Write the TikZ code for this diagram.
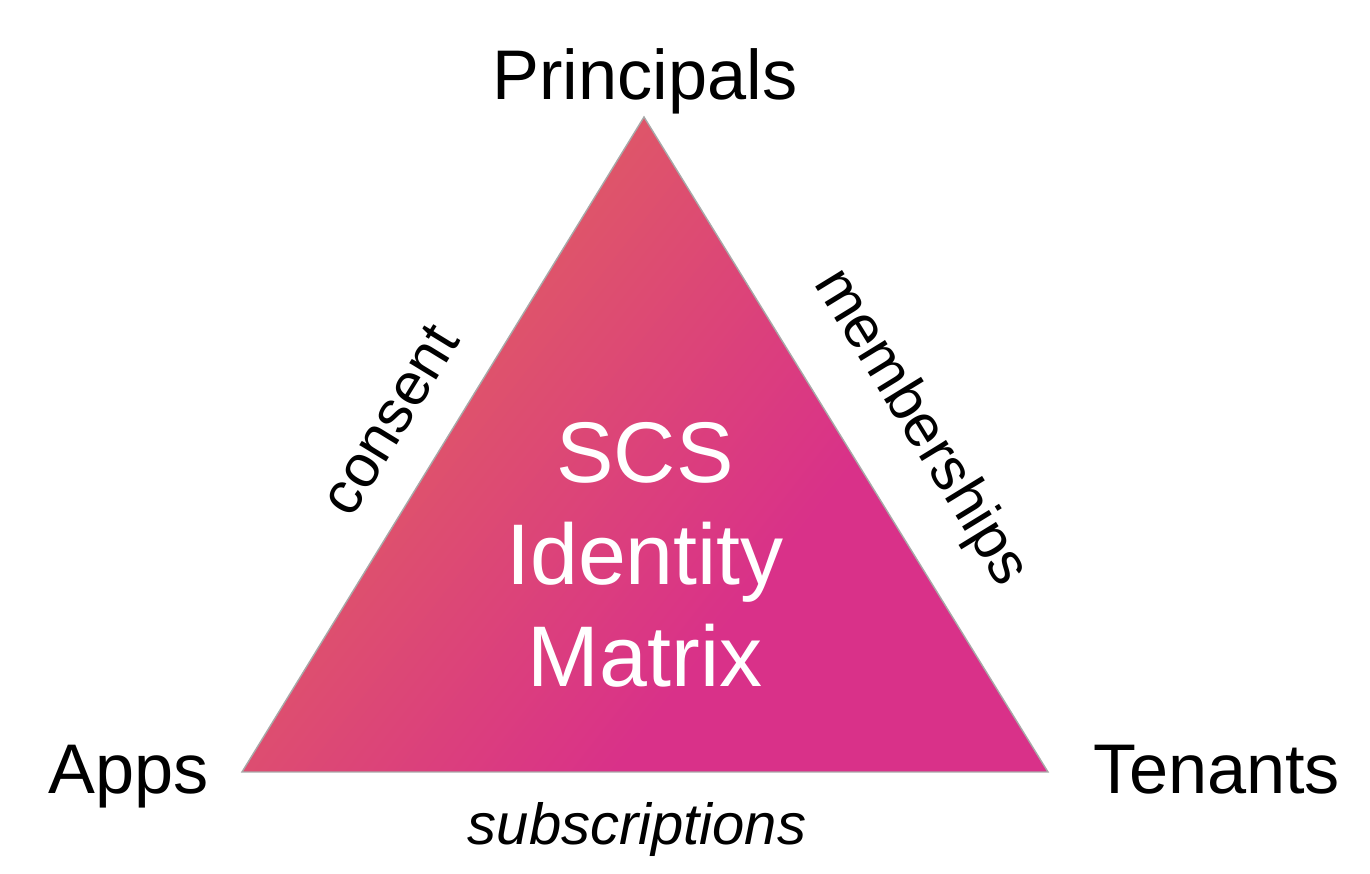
\documentclass[tikz,border=0pt]{standalone}
\usepackage{fontspec}
\setmainfont{Liberation Sans}
\usetikzlibrary{positioning}
\definecolor{idorange}{HTML}{E1675A}
\definecolor{idmagenta}{HTML}{D93189}
\definecolor{idedge}{HTML}{A8A8A8}
\pgfdeclarehorizontalshading{idshade}{100bp}{color(0bp)=(idorange); color(24bp)=(idorange); color(62bp)=(idmagenta); color(100bp)=(idmagenta)}

\begin{document}
\begin{tikzpicture}[x=0.02cm,y=-0.02cm]
      \tikzstyle{corner} = [inner sep=0pt, anchor=base, font=\fontsize{40}{48}\selectfont]
      \tikzstyle{side} = [inner sep=0pt, font=\fontsize{34}{40}\selectfont]

      \useasboundingbox (0,0) rectangle (1370,874);

      \coordinate (top) at (644,117);
      \coordinate (left) at (242,772);
      \coordinate (right) at (1048,772);

      \draw[idedge, line width=0.8pt, shading=idshade, shading angle=-38] (top) -- (left) -- (right) -- cycle;

      \node[corner] (principals) at (645,100) {Principals};
      \node[corner] (apps) at (129,793) {Apps};
      \node[corner] (tenants) at (1217,793) {Tenants};

      \node[side, anchor=base, font=\fontsize{33}{40}\selectfont\itshape] (subs) at (637,845) {subscriptions};
      \node[side, rotate=58.5] (consent) at (390,420) {consent};
      \node[side, rotate=-58.5] (members) at (920,428) {memberships};

      \node[inner sep=0pt, align=center, text=white, font=\fontsize{49}{58}\selectfont] (matrix) at (645,555) {SCS\\Identity\\Matrix};
    \end{tikzpicture}
\end{document}
